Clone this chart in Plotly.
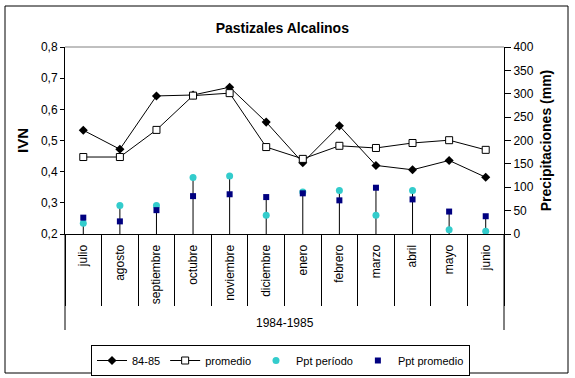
import plotly.graph_objects as go

months = ["julio", "agosto", "septiembre", "octubre", "noviembre", "diciembre",
          "enero", "febrero", "marzo", "abril", "mayo", "junio"]
ivn_8485 = [0.533, 0.472, 0.643, 0.646, 0.671, 0.559, 0.429, 0.547, 0.420, 0.406, 0.436, 0.382]
ivn_promedio = [0.447, 0.447, 0.534, 0.644, 0.652, 0.479, 0.441, 0.483, 0.476, 0.492, 0.501, 0.470]
ppt_periodo = [23, 61, 61, 121, 124, 40, 90, 93, 40, 93, 9, 6]
ppt_promedio = [35, 27, 51, 81, 85, 79, 87, 72, 99, 74, 48, 38]
period_label = "1984-1985"
title_text = "Pastizales Alcalinos"

FONT = "Liberation Sans, Arial, sans-serif"

# drop lines from 0 to the highest precipitation value of each month
drop_x, drop_y = [], []
for m, a, b in zip(months, ppt_periodo, ppt_promedio):
    drop_x += [m, m, None]
    drop_y += [0, max(a, b), None]

fig = go.Figure()
fig.add_trace(go.Scatter(
    x=months, y=ivn_8485, name="84-85", mode="lines+markers",
    line=dict(color="black", width=1),
    marker=dict(symbol="diamond", size=7, color="black"),
    xaxis="x", yaxis="y"))
fig.add_trace(go.Scatter(
    x=months, y=ivn_promedio, name="promedio", mode="lines+markers",
    line=dict(color="black", width=1),
    marker=dict(symbol="square", size=7, color="white", line=dict(color="black", width=1)),
    xaxis="x", yaxis="y"))
fig.add_trace(go.Scatter(
    x=drop_x, y=drop_y, mode="lines", showlegend=False, hoverinfo="skip",
    line=dict(color="black", width=1), xaxis="x2", yaxis="y2"))
fig.add_trace(go.Scatter(
    x=months, y=ppt_periodo, name="Ppt período", mode="markers",
    marker=dict(symbol="circle", size=7, color="#33CCCC"),
    xaxis="x2", yaxis="y2"))
fig.add_trace(go.Scatter(
    x=months, y=ppt_promedio, name="Ppt promedio", mode="markers",
    marker=dict(symbol="square", size=6, color="#000080"),
    xaxis="x2", yaxis="y2"))

W, H = 575, 378
L, R, T, B = 65, 504, 47, 234
pw, ph = R - L, B - T

def px(xp):
    return (xp - L) / pw

def py(yp):
    return (B - yp) / ph

fig.update_layout(
    width=W, height=H,
    margin=dict(l=L, r=W - R, t=T, b=H - B, autoexpand=False),
    paper_bgcolor="white", plot_bgcolor="white",
    separators=",.",
    font=dict(family=FONT, size=12, color="black"),
    title=dict(text=f"<b>{title_text}</b>", x=0.495, xref="paper", xanchor="center",
               y=1 - 28.5 / H, yanchor="middle", font=dict(size=14, family=FONT)),
    xaxis=dict(type="category", categoryorder="array", categoryarray=months,
               range=[-0.5, 11.5], showline=True, linecolor="black", linewidth=1,
               ticks="", tickangle=-90, showgrid=False, zeroline=False,
               ticklabelstandoff=5, tickfont=dict(size=12), automargin=False),
    xaxis2=dict(type="category", categoryorder="array", categoryarray=months,
                range=[-0.5, 11.5], overlaying="x", anchor="y2", side="bottom",
                showline=False, ticks="outside", tickson="boundaries", ticklen=71,
                tickcolor="black", tickwidth=1, showticklabels=False,
                showgrid=False, zeroline=False, automargin=False),
    yaxis=dict(range=[0.2, 0.8], dtick=0.1, tickformat=".1f", showline=True,
               linecolor="black", linewidth=1, ticks="outside", ticklen=4,
               tickcolor="black", showgrid=False, zeroline=False, automargin=False,
               title=dict(text="<b>IVN</b>", font=dict(size=15), standoff=8),
               tickfont=dict(size=12)),
    yaxis2=dict(range=[0, 400], dtick=50, overlaying="y", side="right", anchor="x",
                showline=True, linecolor="black", linewidth=1, ticks="outside",
                ticklen=6, tickcolor="black", showgrid=False, zeroline=False,
                automargin=False,
                title=dict(text="<b>Precipitaciones (mm)</b>", font=dict(size=14), standoff=8),
                tickfont=dict(size=12)),
    legend=dict(orientation="h", x=px(91), y=py(345), xanchor="left", yanchor="top",
                bordercolor="black", borderwidth=1, bgcolor="white",
                font=dict(size=11, family=FONT), itemwidth=30),
    showlegend=True,
)

shapes = [
    # gray line along the top of the plot area
    dict(type="line", xref="paper", yref="paper", x0=0, x1=1, y0=1, y1=1,
         line=dict(color="#808080", width=1)),
    # outer group dividers
    dict(type="line", xref="paper", yref="paper", x0=0, x1=0, y0=0, y1=py(330),
         line=dict(color="black", width=1)),
    dict(type="line", xref="paper", yref="paper", x0=1, x1=1, y0=0, y1=py(330),
         line=dict(color="black", width=1)),
    # chart border
    dict(type="rect", xref="paper", yref="paper", x0=px(5), x1=px(568),
         y0=py(373), y1=py(6), line=dict(color="black", width=1), layer="below"),
]
fig.update_layout(shapes=shapes)
fig.add_annotation(text=period_label, xref="paper", yref="paper", x=0.5, y=py(323),
                   showarrow=False, xanchor="center", yanchor="middle",
                   font=dict(size=12, family=FONT))

fig.write_html("out.html", config={"displayModeBar": False},
               post_script="document.body.style.margin='0px';document.body.style.overflow='hidden';")
